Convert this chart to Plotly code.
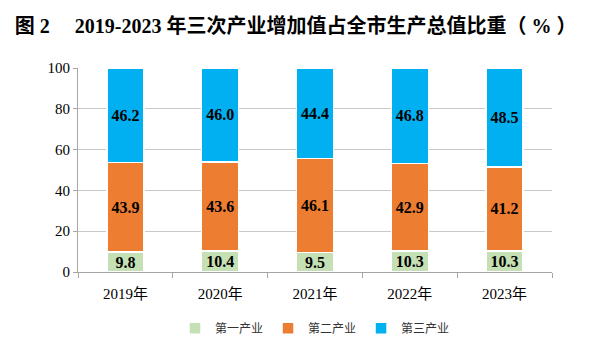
import plotly.graph_objects as go

years = ["2019年", "2020年", "2021年", "2022年", "2023年"]
primary = [9.8, 10.4, 9.5, 10.3, 10.3]
secondary = [43.9, 43.6, 46.1, 42.9, 41.2]
tertiary = [46.2, 46.0, 44.4, 46.8, 48.5]
names = ["第一产业", "第二产业", "第三产业"]
colors = ["#C5E0B4", "#ED7D31", "#00B0F0"]
y_ticks = [0, 20, 40, 60, 80, 100]

serif = "Times New Roman, Liberation Serif, Noto Sans CJK SC"
fig = go.Figure()
for name, vals, col in zip(names, [primary, secondary, tertiary], colors):
    fig.add_trace(go.Bar(
        x=years, y=vals, name=name,
        marker=dict(color=col, line=dict(color="white", width=1.5)),
        text=[f"{v:.1f}" for v in vals],
        textposition="inside", insidetextanchor="middle", textangle=0,
        textfont=dict(family=serif, size=16, color="black", weight="bold"),
        constraintext="none",
    ))

fig.update_layout(
    barmode="stack", bargap=0.61,
    width=592, height=353,
    margin=dict(l=78, r=40, t=68, b=80),
    paper_bgcolor="white", plot_bgcolor="white",
    title=dict(text="图 2　 2019-2023 年三次产业增加值占全市生产总值比重（ % ）",
               x=0.025, xanchor="left", y=0.925, yanchor="middle",
               font=dict(family=serif, size=20, color="black", weight="bold")),
    legend=dict(orientation="h", x=0.5, xanchor="center", y=-0.27, yanchor="middle",
                font=dict(family="Noto Sans CJK SC", size=12, color="#333"),
                itemwidth=30, traceorder="normal"),
    showlegend=True,
)
fig.update_xaxes(showline=True, linecolor="#A6A6A6", ticks="outside", tickson="boundaries",
                 ticklen=5, tickcolor="#A6A6A6", ticklabelstandoff=8,
                 tickfont=dict(family=serif, size=15, color="black"))
fig.update_yaxes(range=[0, 100], tickvals=y_ticks, showline=True, linecolor="#A6A6A6",
                 ticks="outside", ticklen=4, tickcolor="#A6A6A6",
                 gridcolor="#C8C8C8", zeroline=False,
                 tickfont=dict(family=serif, size=15, color="black"))
fig.write_html("out.html")
